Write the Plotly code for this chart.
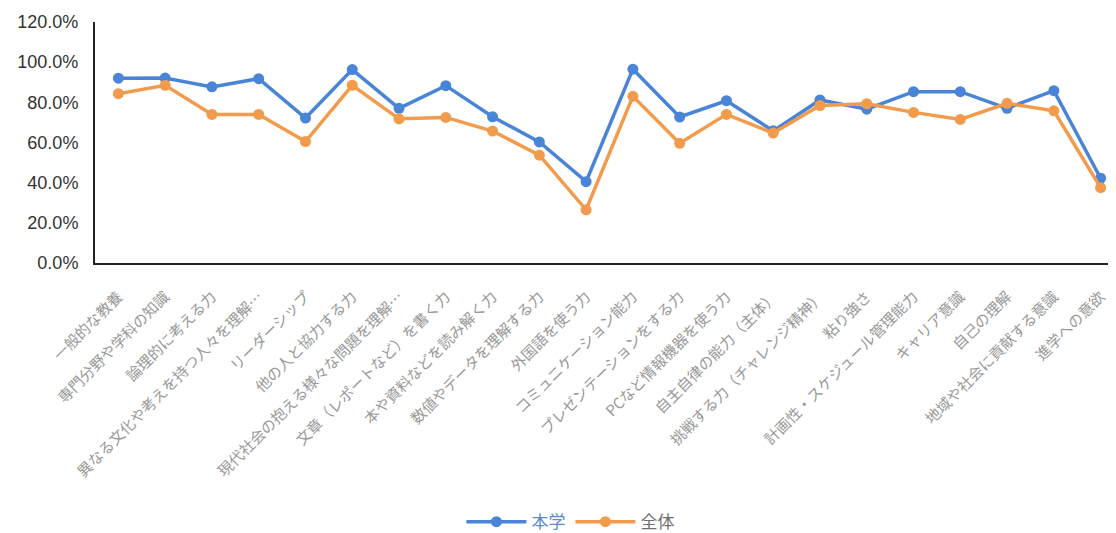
import plotly.graph_objects as go

categories = [
    "一般的な教養",
    "専門分野や学科の知識",
    "論理的に考える力",
    "異なる文化や考えを持つ人々を理解…",
    "リーダーシップ",
    "他の人と協力する力",
    "現代社会の抱える様々な問題を理解…",
    "文章（レポートなど）を書く力",
    "本や資料などを読み解く力",
    "数値やデータを理解する力",
    "外国語を使う力",
    "コミュニケーション能力",
    "プレゼンテーションをする力",
    "PCなど情報機器を使う力",
    "自主自律の能力（主体）",
    "挑戦する力（チャレンジ精神）",
    "粘り強さ",
    "計画性・スケジュール管理能力",
    "キャリア意識",
    "自己の理解",
    "地域や社会に貢献する意識",
    "進学への意欲",
]

honbu = [0.920, 0.921, 0.877, 0.918, 0.722, 0.963, 0.770, 0.883, 0.728, 0.603,
         0.405, 0.965, 0.727, 0.808, 0.658, 0.812, 0.766, 0.853, 0.853, 0.770,
         0.858, 0.422]
zentai = [0.843, 0.885, 0.740, 0.740, 0.605, 0.885, 0.718, 0.725, 0.657, 0.537,
          0.265, 0.830, 0.596, 0.740, 0.647, 0.784, 0.793, 0.750, 0.715, 0.795,
          0.758, 0.375]

series_colors = ["#4a84d6", "#f29b4c"]
yticks = [0, 0.2, 0.4, 0.6, 0.8, 1.0, 1.2]

fig = go.Figure()
fig.add_trace(go.Scatter(
    x=list(range(len(categories))), y=honbu, mode="lines+markers",
    name="<span style='color:#5a8ad0'>本学</span>",
    line=dict(color=series_colors[0], width=3.5),
    marker=dict(symbol="circle", size=11, color=series_colors[0]),
))
fig.add_trace(go.Scatter(
    x=list(range(len(categories))), y=zentai, mode="lines+markers",
    name="全体",
    line=dict(color=series_colors[1], width=3.5),
    marker=dict(symbol="circle", size=11, color=series_colors[1]),
))

fig.update_layout(
    width=1116, height=533,
    margin=dict(l=87, r=0, t=14, b=278),
    paper_bgcolor="white", plot_bgcolor="white",
    font=dict(family="Noto Sans CJK JP, Noto Sans, sans-serif", color="#666666"),
    showlegend=True,
    legend=dict(orientation="h", x=0.462, xanchor="center", y=-1.075, yanchor="middle",
                font=dict(size=17, color="#707070"), itemwidth=60, traceorder="normal"),
)
fig.update_xaxes(
    range=[-0.5, 21.5], tickmode="array",
    tickvals=list(range(len(categories))), ticktext=categories,
    tickangle=-45, tickfont=dict(size=15, color="#999999"),
    showline=True, linecolor="#222222", linewidth=2, showgrid=False,
    ticks="outside", ticklen=17, tickcolor="rgba(0,0,0,0)",
    zeroline=False,
)
fig.update_yaxes(
    range=[0, 1.2], tickmode="array", tickvals=yticks, tickformat=".1%",
    tickfont=dict(size=18, color="#333333", family="Liberation Sans, Arial, sans-serif"),
    showline=True, linecolor="#222222", linewidth=2, showgrid=False, ticks="",
    ticklabelstandoff=11, zeroline=False,
)

fig.write_html("out.html")
